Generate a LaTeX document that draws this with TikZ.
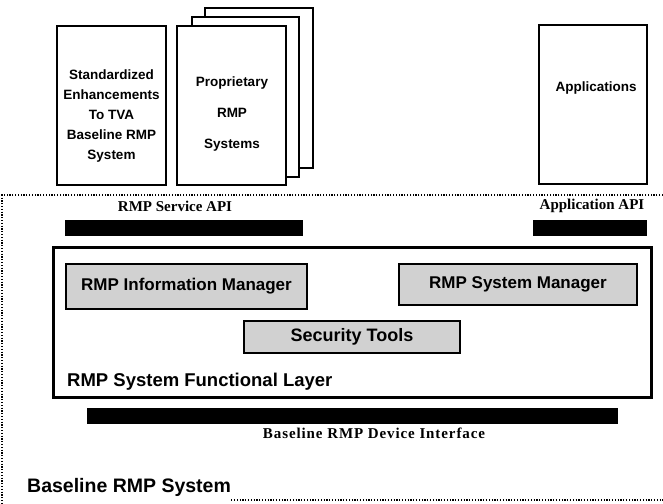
\documentclass[tikz,border=0pt]{standalone}
\usepackage{fontspec}
\setmainfont{Liberation Sans}
\newfontfamily\apifont{Liberation Serif}
\newfontfamily\apifontwide[LetterSpace=6]{Liberation Serif}
\begin{document}
\begin{tikzpicture}[x=1pt,y=-1pt,
  doc/.style={draw, line width=1.4pt, fill=white, inner sep=0pt, outer sep=0pt, anchor=north west},
  doctext/.style={align=center, inner sep=0pt, font=\bfseries\fontsize{13.5}{20}\selectfont},
  apibar/.style={fill=black, draw=none, inner sep=0pt, outer sep=0pt, anchor=north west},
  apilabel/.style={inner sep=0pt, font=\apifont\bfseries\fontsize{15}{18}\selectfont},
  layer/.style={draw, line width=3pt, inner sep=0pt, outer sep=0pt, anchor=north west},
  module/.style={draw, line width=1.2pt, fill=black!18, inner sep=0pt, outer sep=0pt, anchor=north west},
  modtext/.style={inner sep=0pt, font=\bfseries\fontsize{17}{20}\selectfont},
  frameline/.style={line width=1.3pt, dash pattern=on 1.2pt off 1.6pt}
]
\useasboundingbox (0,0) rectangle (663,503);

% outer dotted frame of the baseline system (open on the right)
\coordinate (ftl) at (2,195);
\coordinate (fbl) at (2,503);
\coordinate (ftr) at (663,195);
\draw[frameline] (ftr) -- (ftl) -- (fbl);
\node[anchor=west, inner sep=0pt, font=\bfseries\fontsize{19.5}{22}\selectfont] (base) at (27,487) {Baseline RMP System};
\coordinate (fbr) at (663,500);
\draw[frameline] (base.east |- fbr) -- (fbr);

% external systems above the frame
\node[doc, minimum width=109, minimum height=159] (std) at (57,26) {};
\node[doctext] (stdtxt) at (111.5,116) {Standardized\\Enhancements\\To TVA\\Baseline RMP\\System};

\node[doc, minimum width=108, minimum height=160] (prop3) at (205,8) {};
\node[doc, minimum width=107, minimum height=160] (prop2) at (192,17) {};
\node[doc, minimum width=109, minimum height=159] (prop1) at (177,26) {};
\node[doctext, font=\bfseries\fontsize{13.5}{31}\selectfont] (proptxt) at (232,114) {Proprietary\\RMP\\Systems};

\node[doc, minimum width=108, minimum height=159] (apps) at (539,25) {};
\node[doctext] (appstxt) at (596,88) {Applications};

% interfaces
\node[apilabel] (svclbl) at (175,206) {RMP Service API};
\node[apibar, minimum width=238, minimum height=16] (svcbar) at (65,220) {};
\node[apilabel] (applbl) at (592,206) {Application API};
\node[apibar, minimum width=114, minimum height=16] (appbar) at (533,220) {};

% functional layer
\node[layer, minimum width=598, minimum height=150] (func) at (53,247) {};
\node[module, minimum width=241, minimum height=45] (info) at (66,264) {};
\node[modtext] at (info.center) {RMP Information Manager};
\node[module, minimum width=238, minimum height=41] (sysm) at (399,264) {};
\node[modtext] at (sysm.center) {RMP System Manager};
\node[module, minimum width=216, minimum height=32] (sec) at (244,321) {};
\node[modtext, font=\bfseries\fontsize{18}{20}\selectfont] at (sec.center) {Security Tools};
\node[anchor=west, inner sep=0pt, font=\bfseries\fontsize{18.5}{22}\selectfont] (funclbl) at (67,382) {RMP System Functional Layer};

% device interface
\node[apibar, minimum width=531, minimum height=16] (devbar) at (87,408) {};
\node[inner sep=0pt, font=\apifontwide\bfseries\fontsize{15}{18}\selectfont] (devlbl) at (374,433) {Baseline RMP Device Interface};
\end{tikzpicture}
\end{document}
